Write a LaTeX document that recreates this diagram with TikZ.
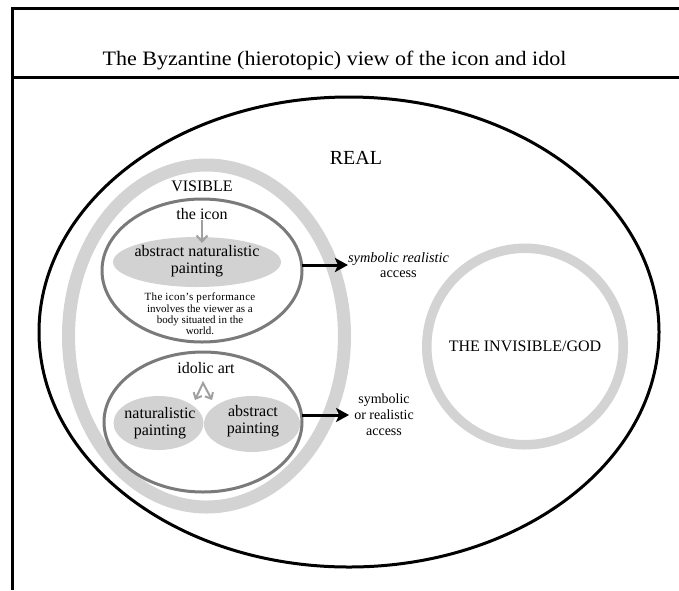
\documentclass[tikz,border=0pt]{standalone}
\usepackage{fontspec}
\usepackage{graphicx}
\setmainfont{Liberation Serif}
\usetikzlibrary{shapes.geometric,arrows.meta}
\definecolor{ringgray}{RGB}{211,211,211}
\definecolor{fillgray}{RGB}{210,210,210}
\definecolor{edgegray}{RGB}{122,122,122}
\definecolor{arrgray}{RGB}{160,160,160}
\begin{document}
\begin{tikzpicture}[x=1pt,y=-1pt,
  oval/.style={ellipse, inner sep=0pt, outer sep=0pt},
  lbl/.style={inner sep=0pt, align=center, font=\fontsize{16}{17}\selectfont},
  frameline/.style={line width=3pt},
  blackarrow/.style={line width=3pt, -{Stealth[length=13pt,width=14pt,inset=3pt]}},
  grayarrow/.style={draw=arrgray, line width=2pt}
]
\useasboundingbox (0,0) rectangle (679,590);
% frame
\draw[frameline] (12.5,590) -- (12.5,8.5) -- (679,8.5);
\draw[frameline] (11,77.5) -- (679,77.5);
\node[inner sep=0pt, font=\fontsize{20.5}{24}\selectfont] (title) at (334.5,60.5) {\scalebox{1.075}[1]{The Byzantine (hierotopic) view of the icon and idol}};
% REAL
\node[oval, draw=black, line width=3pt, minimum width=620, minimum height=470] (realE) at (349,332) {};
\node[lbl, font=\fontsize{20}{24}\selectfont] (real) at (356,158) {REAL};
% VISIBLE
\node[oval, draw=ringgray, line width=13pt, minimum width=276, minimum height=342] (visE) at (206.5,336) {};
\node[lbl] (visible) at (202,186) {VISIBLE};
% icon
\node[oval, draw=edgegray, line width=3pt, minimum width=200, minimum height=143] (iconE) at (202,270.5) {};
\node[lbl] (iconlbl) at (202,214) {the icon};
\node[oval, fill=fillgray, minimum width=168, minimum height=50] (paintE) at (197,262) {};
\node[lbl] (painttxt) at (197,261) {abstract naturalistic\\painting};
\draw[grayarrow, -{Straight Barb[length=6pt,width=11pt]}, shorten >=-6pt] (iconlbl.south) -- (iconlbl.south |- paintE.north);
\node[lbl, font=\fontsize{11}{11.3}\selectfont] (perf) at (200,314) {\addfontfeature{LetterSpace=3}The icon’s performance\\involves the viewer as a\\body situated in the\\world.};
\node[lbl, font=\fontsize{14.3}{15}\selectfont] (symA) at (398.5,265) {\itshape symbolic realistic\\access};
\draw[blackarrow] (iconE.east |- symA.west) -- (symA.west);
% idol
\node[oval, draw=edgegray, line width=3pt, minimum width=198, minimum height=140] (idolE) at (203,422) {};
\node[lbl] (idollbl) at (206,368) {idolic art};
\node[oval, fill=fillgray, minimum width=90, minimum height=54] (natE) at (158.5,423) {};
\node[lbl] (nattxt) at (160,423.5) {naturalistic\\painting};
\node[oval, fill=fillgray, minimum width=96, minimum height=56] (absE) at (252,424) {};
\node[lbl] (abstxt) at (253,421.5) {abstract\\painting};
\coordinate (apex) at (203,383);
\coordinate (natTip) at (195,400);
\coordinate (absTip) at (212,400);
\draw[grayarrow, {Straight Barb[length=5pt,width=9pt]}-{Straight Barb[length=5pt,width=9pt]}] (natTip) -- (apex) -- (absTip);
\node[lbl, font=\fontsize{14}{16}\selectfont] (symB) at (384,415) {symbolic\\or realistic\\access};
\draw[blackarrow, shorten >=5pt] (idolE.east |- symB.west) -- (symB.west);
% invisible
\node[circle, draw=ringgray, line width=9.5pt, minimum size=196.5, inner sep=0pt, outer sep=0pt] (godE) at (525,346.5) {};
\node[lbl] (godtxt) at (525,346) {THE INVISIBLE/GOD};
\end{tikzpicture}
\end{document}
